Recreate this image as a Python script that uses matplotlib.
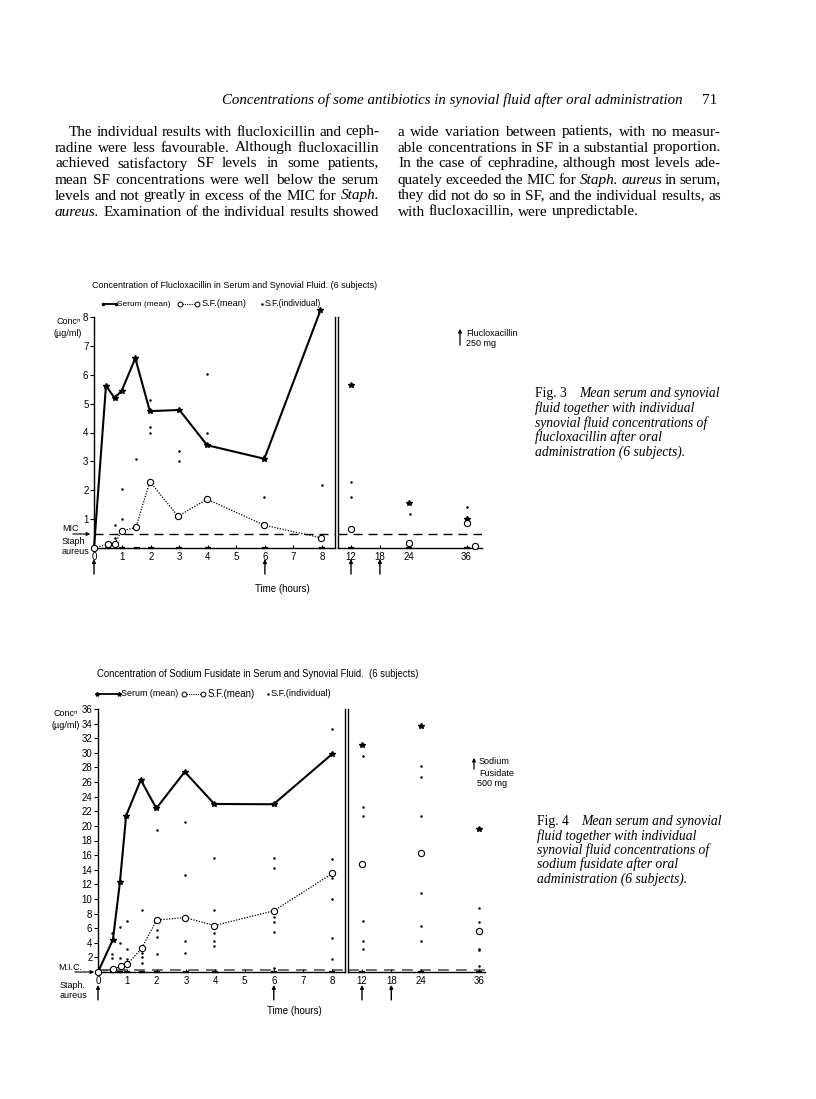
import statistics
import matplotlib
matplotlib.use('Agg')
import matplotlib.pyplot as plt
from matplotlib.lines import Line2D
from matplotlib.patches import FancyArrowPatch

# ---------------- data: Fig. 3 flucloxacillin ----------------
f_serum_t = [0, 0.42, 0.72, 0.97, 1.45, 1.96, 3.0, 3.97, 5.98, 7.95]
f_serum_c = [0, 5.62, 5.20, 5.44, 6.57, 4.74, 4.78, 3.56, 3.09, 8.23]
f_serum_late_t = [12, 24, 36]
f_serum_late_c = [5.65, 1.57, 1.02]
f_sf_t = [0, 0.5, 0.72, 0.97, 1.47, 1.96, 2.95, 3.97, 5.98, 7.98]
f_sf_c = [0, 0.13, 0.13, 0.59, 0.71, 2.30, 1.10, 1.69, 0.79, 0.35]
f_sf_late_t = [12, 24, 36, 37.7]
f_sf_late_c = [0.65, 0.17, 0.87, 0.06]
f_ind_t = [0.72, 0.72, 0.97, 0.97, 1.47, 1.96, 1.96, 1.96, 2.98, 2.98,
           3.97, 3.97, 5.98, 5.98, 8.0, 12.1, 12.1, 24.2, 36.0]
f_ind_c = [0.78, 0.33, 2.05, 1.00, 3.08, 5.12, 4.20, 3.99, 3.37, 3.00,
           6.02, 4.00, 3.20, 1.77, 2.19, 2.30, 1.78, 1.17, 1.43]
f_zero_t = [0.5, 1, 1.5, 2, 3, 4, 6, 8, 12, 24, 36]
f_mic = 0.48
f_yticks = [1, 2, 3, 4, 5, 6, 7, 8]

# ---------------- data: Fig. 4 sodium fusidate ----------------
s_serum_t = [0, 0.51, 0.75, 0.96, 1.46, 1.99, 2.96, 3.97, 5.99, 7.98]
s_serum_c = [0, 4.44, 12.35, 21.4, 26.3, 22.4, 27.4, 23.0, 22.96, 29.8]
s_serum_late_t = [12, 24, 36]
s_serum_late_c = [31.1, 33.7, 19.6]
s_sf_t = [0, 0.5, 0.8, 1.0, 1.49, 2.0, 2.96, 3.97, 6.0, 8.0]
s_sf_c = [0, 0.37, 0.82, 1.05, 3.25, 7.1, 7.46, 6.36, 8.37, 13.5]
s_sf_late_t = [12, 24, 36]
s_sf_late_c = [14.8, 16.3, 5.58]
s_ind_t = [0.47, 0.47, 0.47, 0.75, 0.75, 0.75, 1.0, 1.0, 1.0, 1.0,
           1.49, 1.49, 1.49, 1.49, 2.0, 2.0, 2.0, 2.0,
           2.98, 2.98, 2.98, 2.98, 3.97, 3.97, 3.97, 3.97, 3.97,
           6.0, 6.0, 6.0, 6.0, 6.0, 6.0, 8.0, 8.0, 8.0, 8.0, 8.0, 8.0,
           12.2, 12.2, 12.2, 12.2, 12.2, 12.2,
           24.0, 24.0, 24.0, 24.0, 24.0, 24.0,
           36.0, 36.0, 36.0, 36.0, 36.0]
s_ind_c = [5.4, 2.4, 1.9, 6.2, 4.0, 1.9, 6.95, 3.16, 1.83, 1.37,
           8.5, 2.6, 2.06, 1.23, 19.4, 5.8, 4.85, 2.5,
           20.6, 13.3, 4.2, 2.65, 15.55, 8.55, 5.35, 4.2, 3.6,
           15.6, 14.2, 7.55, 6.86, 5.5, 0.5, 33.3, 15.5, 12.85, 10.0, 4.7, 1.74,
           29.5, 22.6, 21.4, 7.0, 4.25, 3.2,
           28.2, 26.7, 21.4, 10.75, 6.3, 4.25,
           8.7, 6.86, 3.16, 2.97, 0.78]
s_zero_t = [0.5, 0.75, 1, 1.5, 2, 3, 4, 6, 8, 12, 24, 36]
s_mic = 0.25
s_yticks = list(range(2, 37, 2))

xticks_early = [0, 1, 2, 3, 4, 5, 6, 7, 8]
xticks_late = [12, 18, 24, 36]
dose_early = [0, 6]
dose_late = [12, 18]

# ---------------- figure ----------------
W, H = 816, 1099
fig = plt.figure(figsize=(W / 100, H / 100), dpi=100)
renderer = fig.canvas.get_renderer()

SANS = ['Liberation Sans Narrow', 'Liberation Sans', 'DejaVu Sans']
SERIF = ['Liberation Serif', 'DejaVu Serif']


def fx(px):
    return px / W


def fy(py):
    return 1 - py / H


def T(x, y, s, size=7, ha='left', va='center', family=None, **kw):
    return fig.text(fx(x), fy(y), s, fontsize=size, ha=ha, va=va,
                    family=family or SANS, **kw)


def fitT(x, y, s, width, ha='left', va='center', family=None, **kw):
    t = T(x, y, s, size=10, ha=ha, va=va, family=family, **kw)
    w = t.get_window_extent(renderer).width
    t.set_fontsize(10 * width / w)
    return t


def L(xs, ys, **kw):
    fig.add_artist(Line2D([fx(v) for v in xs], [fy(v) for v in ys],
                          transform=fig.transFigure, **kw))


def arrow(x0, y0, x1, y1, lw=0.8):
    fig.add_artist(FancyArrowPatch((fx(x0), fy(y0)), (fx(x1), fy(y1)),
                                   transform=fig.transFigure, arrowstyle='-|>',
                                   mutation_scale=5, lw=lw, color='black'))


def part(ts, cs, lo, hi):
    pairs = [(t, c) for t, c in zip(ts, cs) if lo <= t <= hi]
    return [p[0] for p in pairs], [p[1] for p in pairs]


def chart(box_l, box_r, xlim_l, xlim_r, ymax, yticks,
          serum_t, serum_c, serum_lt, serum_lc,
          sf_t, sf_c, sf_lt, sf_lc, ind_t, ind_c, zero_t, mic, micgrey):
    x0, y_top, x1, y_bot = box_l
    axl = fig.add_axes([fx(x0), fy(y_bot), fx(x1) - fx(x0), fy(y_top) - fy(y_bot)])
    x0r, x1r = box_r
    axr = fig.add_axes([fx(x0r), fy(y_bot), fx(x1r) - fx(x0r), fy(y_top) - fy(y_bot)])
    for ax, xl in ((axl, xlim_l), (axr, xlim_r)):
        ax.set_xlim(*xl)
        ax.set_ylim(0, ymax)
        ax.patch.set_alpha(0)
        ax.spines['top'].set_visible(False)
        for sp in ax.spines.values():
            sp.set_linewidth(1.0)
        ax.tick_params(axis='x', direction='in', length=2, pad=3, labelsize=7)
    axl.spines['right'].set_visible(True)
    axr.spines['right'].set_visible(False)
    axl.set_xticks(xticks_early)
    axr.set_xticks(xticks_late)
    axl.set_yticks(yticks)
    axl.tick_params(axis='y', direction='out', length=3, pad=1, labelsize=7, right=False)
    axr.tick_params(axis='y', left=False, labelleft=False, right=False)
    for ax in (axl, axr):
        for lab in ax.get_xticklabels() + ax.get_yticklabels():
            lab.set_family(SANS)
    ranges = ((axl, xlim_l), (axr, xlim_r))
    for ax, (lo, hi) in ranges:
        ax.axhline(mic, color='#555555' if micgrey else 'black',
                   lw=1.2 if micgrey else 1.0, dashes=(6.5, 4.3), zorder=1)
        zt, _ = part(zero_t, zero_t, lo, hi)
        ax.plot(zt, [0] * len(zt), ls='none', marker='_', ms=5, mew=1.6,
                color='black', clip_on=False, zorder=3)
        it, ic = part(ind_t, ind_c, lo, hi)
        ax.plot(it, ic, ls='none', color='black', marker='o', ms=1.8,
                mew=0, clip_on=False, zorder=3)
    # serum mean
    axl.plot(serum_t, serum_c, '-', color='black', lw=1.5, marker='*', ms=4,
             clip_on=False, zorder=4)
    axr.plot(serum_lt, serum_lc, ls='none', color='black', marker='*', ms=4,
             clip_on=False, zorder=4)
    # SF mean
    axl.plot(sf_t, sf_c, ls=(0, (1, 1.2)), color='black', lw=0.9, marker='o', ms=4.5,
             mfc='white', mew=0.8, clip_on=False, zorder=5)
    axr.plot(sf_lt, sf_lc, ls='none', color='black', marker='o', ms=4.5,
             mfc='white', mew=0.8, clip_on=False, zorder=5)
    return axl, axr


def dose_arrows(axl, axr, ya, yb):
    for ax, ts in ((axl, dose_early), (axr, dose_late)):
        for t in ts:
            ax.annotate('', xy=(t, ya), xytext=(t, yb),
                        xycoords=ax.get_xaxis_transform(),
                        textcoords=ax.get_xaxis_transform(),
                        arrowprops=dict(arrowstyle='-|>', color='black', lw=1.0,
                                        mutation_scale=5, shrinkA=0, shrinkB=0))


# ---------------- header + body text ----------------
fitT(222, 100, 'Concentrations of some antibiotics in synovial fluid after oral administration',
     463, family=SERIF, style='italic')
T(702, 100, '71', size=11, family=SERIF)

left_lines = [
    "The individual results with flucloxicillin and ceph-",
    "radine were less favourable. Although flucloxacillin",
    "achieved satisfactory SF levels in some patients,",
    "mean SF concentrations were well below the serum",
    "levels and not greatly in excess of the MIC for _Staph._",
    "_aureus._ Examination of the individual results showed",
]
right_lines = [
    "a wide variation between patients, with no measur-",
    "able concentrations in SF in a substantial proportion.",
    "In the case of cephradine, although most levels ade-",
    "quately exceeded the MIC for _Staph._ _aureus_ in serum,",
    "they did not do so in SF, and the individual results, as",
    "with flucloxacillin, were unpredictable.",
]
line_y = [132, 148, 164, 180, 196, 212]
left_x = [(69 if i == 0 else 55, 379) for i in range(6)]
right_x = [(398, 721)] * 6

# choose a body font size so that the lines fit naturally
sizes = []
for lines, xs in ((left_lines, left_x), (right_lines[:5], right_x[:5])):
    for ln, (a, b) in zip(lines, xs):
        t = T(0, 0, ln.replace('_', ''), size=10, family=SERIF)
        sizes.append(10 * (b - a) / t.get_window_extent(renderer).width)
        t.remove()
BODY = statistics.median(sizes)


def body_line(line, x0, x1, y, justify=True):
    words = line.split(' ')
    ts, ws = [], []
    for w in words:
        it = w.startswith('_')
        s = w.replace('_', '')
        t = T(0, y, s, size=BODY, family=SERIF, style='italic' if it else 'normal')
        ts.append(t)
        ws.append(t.get_window_extent(renderer).width)
    if justify and len(ts) > 1:
        gap = (x1 - x0 - sum(ws)) / (len(ts) - 1)
    else:
        gap = BODY * 0.25 * 100 / 72
    x = x0
    for t, w in zip(ts, ws):
        t.set_x(fx(x))
        x += w + gap


for i, ln in enumerate(left_lines):
    body_line(ln, left_x[i][0], left_x[i][1], line_y[i])
for i, ln in enumerate(right_lines):
    body_line(ln, right_x[i][0], right_x[i][1], line_y[i], justify=(i < 5))

# ---------------- Fig. 3 ----------------
a1l, a1r = chart((94, 317, 335, 548), (338, 482), (0, 8.46), (9.3, 39.2), 8, f_yticks,
                 f_serum_t, f_serum_c, f_serum_late_t, f_serum_late_c,
                 f_sf_t, f_sf_c, f_sf_late_t, f_sf_late_c,
                 f_ind_t, f_ind_c, f_zero_t, f_mic, False)
dose_arrows(a1l, a1r, -0.048, -0.113)
fitT(92, 285, 'Concentration of Flucloxacillin in Serum and Synovial Fluid. (6 subjects)', 285)
L([103, 116], [304, 304], color='black', lw=1.3, marker='o', ms=1.5)
fitT(117, 304, 'Serum (mean)', 54)
L([180, 197], [304, 304], color='black', lw=0.8, ls=(0, (1, 1)), marker='o', ms=3.5,
  mfc='white', mew=0.7)
fitT(202, 304, 'S.F.(mean)', 45)
L([262], [304], color='black', marker='o', ms=1.8, mew=0, ls='none')
fitT(265, 304, 'S.F.(individual)', 56)
T(56, 321, 'Conc\u207f', size=6.5)
T(53, 333, '(\u00b5g/ml)', size=6.5)
T(62, 529, 'MIC', size=6.5)
arrow(70, 534, 93, 534)
T(62, 541, 'Staph', size=6.5)
T(62, 552, 'aureus', size=6.5)
T(282, 589, 'Time (hours)', size=7, ha='center')
arrow(460, 348, 460, 326, lw=0.9)
T(466, 333, 'Flucloxacillin', size=6.5)
T(466, 344, '250 mg', size=6.5)
cap3 = ['fluid together with individual', 'synovial fluid concentrations of',
        'flucloxacillin after oral', 'administration (6 subjects).']
T(535, 394, 'Fig. 3', size=9.8, family=SERIF)
T(579, 394, 'Mean serum and synovial', size=9.8, family=SERIF, style='italic')
for i, s in enumerate(cap3):
    T(535, 408.5 + 14.5 * i, s, size=9.8, family=SERIF, style='italic')

# ---------------- Fig. 4 ----------------
a2l, a2r = chart((98, 709, 345, 972), (348, 485), (0, 8.43), (9.13, 37.2), 36, s_yticks,
                 s_serum_t, s_serum_c, s_serum_late_t, s_serum_late_c,
                 s_sf_t, s_sf_c, s_sf_late_t, s_sf_late_c,
                 s_ind_t, s_ind_c, s_zero_t, s_mic, True)
dose_arrows(a2l, a2r, -0.049, -0.106)
fitT(97, 674, 'Concentration of Sodium Fusidate in Serum and Synovial Fluid.  (6 subjects)', 323)
L([97, 119], [694, 694], color='black', lw=1.3, marker='*', ms=3)
fitT(121, 694, 'Serum (mean)', 57)
L([184, 203], [694, 694], color='black', lw=0.8, ls=(0, (1, 1)), marker='o', ms=3.5,
  mfc='white', mew=0.7)
fitT(208, 694, 'S.F.(mean)', 48)
L([268], [694], color='black', marker='o', ms=1.8, mew=0, ls='none')
fitT(271, 694, 'S.F.(individual)', 60)
T(53, 714, 'Conc\u207f', size=6.5)
T(52, 725, '(\u00b5g/ml)', size=6.5)
T(58, 967, 'M.I.C.', size=6.5)
arrow(72, 972, 97, 972)
T(60, 985, 'Staph.', size=6.5)
T(60, 995, 'aureus', size=6.5)
T(294, 1011, 'Time (hours)', size=7, ha='center')
arrow(474, 772, 474, 755, lw=0.9)
T(479, 762, 'Sodium', size=6.5)
T(479, 773, 'Fusidate', size=6.5)
T(477, 784, '500 mg', size=6.5)
cap4 = ['fluid together with individual', 'synovial fluid concentrations of',
        'sodium fusidate after oral', 'administration (6 subjects).']
T(537, 822, 'Fig. 4', size=9.8, family=SERIF)
T(581, 822, 'Mean serum and synovial', size=9.8, family=SERIF, style='italic')
for i, s in enumerate(cap4):
    T(537, 836 + 14.3 * i, s, size=9.8, family=SERIF, style='italic')

fig.savefig('out.png', dpi=100)
